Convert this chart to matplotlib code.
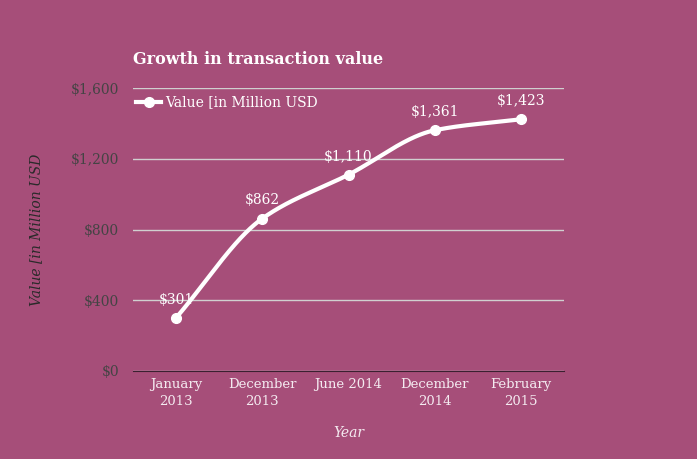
import matplotlib
matplotlib.use("Agg")
import matplotlib.pyplot as plt
import numpy as np

categories = ["January\n2013", "December\n2013", "June 2014", "December\n2014", "February\n2015"]
values = [301, 862, 1110, 1361, 1423]
yticks = [0, 400, 800, 1200, 1600]
ytick_labels = ["$0", "$400", "$800", "$1,200", "$1,600"]
series_name = "Value [in Million USD"

BG = "#A64E79"
plt.rcParams['font.family'] = ['DejaVu Serif']

def monotone(x, y, n=200):
    x = np.asarray(x, float); y = np.asarray(y, float)
    h = np.diff(x); d = np.diff(y) / h
    m = np.zeros_like(y)
    m[0] = d[0]; m[-1] = d[-1]
    for i in range(1, len(y) - 1):
        if d[i-1] * d[i] <= 0:
            m[i] = 0
        else:
            w1 = 2*h[i] + h[i-1]; w2 = h[i] + 2*h[i-1]
            m[i] = (w1 + w2) / (w1/d[i-1] + w2/d[i])
    xs, ys = [], []
    for i in range(len(x) - 1):
        t = np.linspace(0, 1, n)
        h00 = 2*t**3 - 3*t**2 + 1; h10 = t**3 - 2*t**2 + t
        h01 = -2*t**3 + 3*t**2; h11 = t**3 - t**2
        xs.append(x[i] + t*h[i])
        ys.append(h00*y[i] + h10*h[i]*m[i] + h01*y[i+1] + h11*h[i]*m[i+1])
    return np.concatenate(xs), np.concatenate(ys)

fig = plt.figure(figsize=(6.97, 4.59), dpi=100, facecolor=BG)
ax = fig.add_axes([133/697, 1-371/459, (564-133)/697, (371-88)/459], facecolor=BG)

x = np.arange(len(categories))
sx, sy = monotone(x, values)
ax.plot(sx, sy, color="white", lw=3, solid_capstyle="round", zorder=3)
ax.plot(x, values, "o", color="white", ms=7, zorder=4)
ax.plot([], [], "-o", color="white", lw=3, ms=7, label=series_name)

for xi, v in zip(x, values):
    ax.annotate(f"${v:,}", (xi, v), xytext=(0, 8), textcoords="offset points",
                ha="center", va="bottom", color="white", fontsize=10, zorder=5)

ax.set_xlim(-0.5, len(categories) - 0.5)
ax.set_ylim(0, 1600)
ax.set_yticks(yticks)
ax.set_yticklabels(ytick_labels, color="#444444", fontsize=10)
ax.set_xticks(x)
ax.set_xticklabels(categories, color="#f4eaf0", fontsize=9.5, linespacing=1.4)
ax.tick_params(axis="y", length=0, pad=10)
ax.tick_params(axis="x", length=0, pad=5)
ax.grid(axis="y", color="#d0d0d0", lw=1, zorder=1)
for s in ["top", "right", "left"]:
    ax.spines[s].set_visible(False)
ax.spines["bottom"].set_color("#3a2030")
ax.spines["bottom"].set_zorder(2)

ax.set_xlabel("Year", style="italic", color="#f4eaf0", fontsize=10, labelpad=13)
ax.set_ylabel(series_name, style="italic", color="#2a2a2a", fontsize=10, labelpad=20)

fig.text(133/697, 1-60/459, "Growth in transaction value", color="white",
         fontsize=11.5, fontweight="bold", va="center", ha="left")

leg = ax.legend(loc="upper left", bbox_to_anchor=(-0.005, 0.993), frameon=False,
                fontsize=10, handlelength=1.8, handletextpad=0.3, borderaxespad=0)
for t in leg.get_texts():
    t.set_color("white")

fig.savefig("out.png", dpi=100, facecolor=BG)
